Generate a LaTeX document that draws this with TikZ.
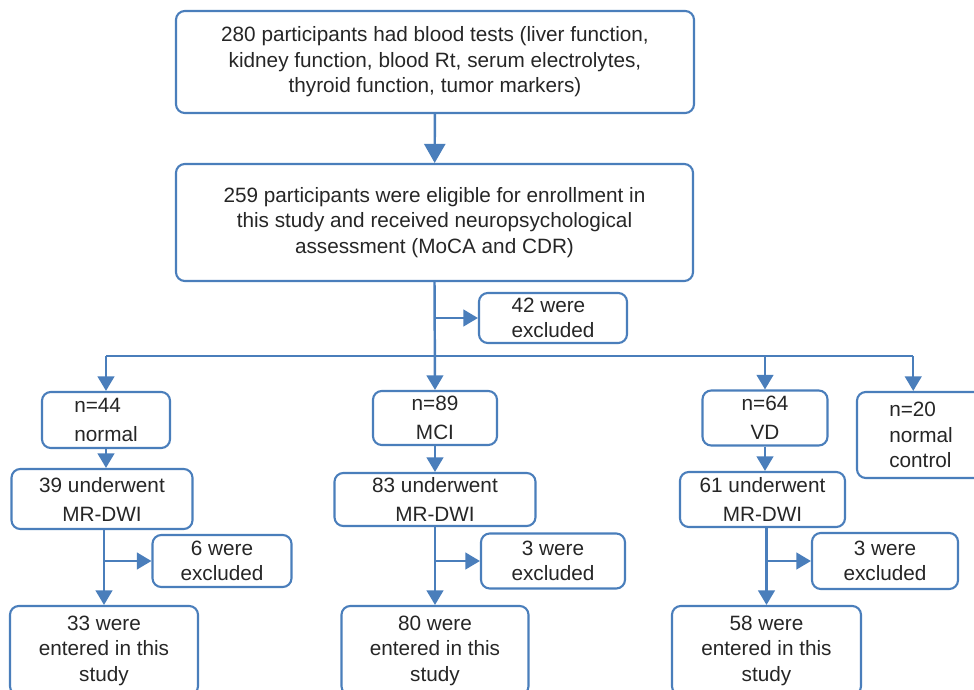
\documentclass[tikz,border=0pt]{standalone}
\usepackage{fontspec}
\setmainfont{Liberation Sans}
\usepackage{tikz}
\usetikzlibrary{arrows.meta, positioning}
\definecolor{flowBlue}{HTML}{4A7EBB}
\definecolor{textGray}{HTML}{262626}
\tikzset{
    flow_box/.style={
        rectangle, rounded corners=5pt, draw=flowBlue, line width=1.2pt,
        fill=white, text=textGray, align=center, inner sep=2pt,
        font=\fontsize{11.8}{14.5}\selectfont
    },
    flow_box_loose/.style={
        flow_box, font=\fontsize{11.8}{16.5}\selectfont
    },
    flow_arrow/.style={
        -{Triangle[length=0.29cm, width=0.33cm]}, draw=flowBlue, line width=1.4pt
    },
    flow_arrow_big/.style={
        -{Triangle[length=0.38cm, width=0.42cm]}, draw=flowBlue, line width=1.4pt
    },
    flow_line/.style={
        draw=flowBlue, line width=1.4pt
    }
}
\begin{document}
\begin{tikzpicture}
    \useasboundingbox (0, 0) rectangle (19.48, -13.80);
    \clip (0, 0) rectangle (19.48, -13.80);

    % screening
    \node[flow_box, minimum width=10.36cm, minimum height=2.04cm] (blood) at (8.70, -1.24) {280 participants had blood tests (liver function,\\kidney function, blood Rt, serum electrolytes,\\thyroid function, tumor markers)};
    \node[flow_box, minimum width=10.34cm, minimum height=2.34cm] (eligible) at (8.69, -4.45) {259 participants were eligible for enrollment in\\this study and received neuropsychological\\assessment (MoCA and CDR)};
    \node[flow_box, align=left, minimum width=2.96cm, minimum height=1.00cm] (excl_all) at (11.06, -6.36) {42 were\\excluded};
    \coordinate (split) at (8.70, -7.12);

    % groups
    \node[flow_box_loose, align=left, minimum width=2.56cm, minimum height=1.12cm] (grp_normal) at (2.12, -8.40) {n=44\\normal};
    \node[flow_box_loose, minimum width=2.48cm, minimum height=1.08cm] (grp_mci) at (8.70, -8.36) {n=89\\MCI};
    \node[flow_box_loose, minimum width=2.50cm, minimum height=1.10cm] (grp_vd) at (15.30, -8.36) {n=64\\VD};
    \node[flow_box, align=left, minimum width=2.56cm, minimum height=1.72cm] (grp_ctrl) at (18.42, -8.70) {n=20\\normal\\control};

    % imaging
    \node[flow_box_loose, minimum width=3.62cm, minimum height=1.20cm] (mr_normal) at (2.04, -9.98) {39 underwent\\MR-DWI};
    \node[flow_box_loose, minimum width=4.02cm, minimum height=1.06cm] (mr_mci) at (8.70, -9.99) {83 underwent\\MR-DWI};
    \node[flow_box_loose, minimum width=3.30cm, minimum height=1.10cm] (mr_vd) at (15.25, -9.99) {61 underwent\\MR-DWI};

    \node[flow_box, minimum width=2.78cm, minimum height=1.04cm] (ex_normal) at (4.44, -11.22) {6 were\\excluded};
    \node[flow_box, minimum width=2.88cm, minimum height=1.10cm] (ex_mci) at (11.06, -11.22) {3 were\\excluded};
    \node[flow_box, minimum width=2.92cm, minimum height=1.12cm] (ex_vd) at (17.70, -11.22) {3 were\\excluded};

    \node[flow_box, minimum width=3.76cm, minimum height=1.78cm] (st_normal) at (2.08, -13.01) {33 were\\entered in this\\study};
    \node[flow_box, minimum width=3.74cm, minimum height=1.78cm] (st_mci) at (8.70, -13.01) {80 were\\entered in this\\study};
    \node[flow_box, minimum width=3.78cm, minimum height=1.78cm] (st_vd) at (15.33, -13.01) {58 were\\entered in this\\study};

    \draw[flow_arrow_big] (blood) -- (eligible);
    \draw[flow_arrow] (eligible.south) -- (grp_mci.north);
    \draw[flow_arrow] (eligible.south |- excl_all.west) -- (excl_all.west);
    \draw[flow_line] (grp_normal.north |- split) -- (grp_ctrl.100 |- split);
    \draw[flow_arrow] (grp_normal.north |- split) -- (grp_normal.north);
    \draw[flow_arrow] (grp_vd.north |- split) -- (grp_vd.north);
    \draw[flow_arrow] (grp_ctrl.100 |- split) -- (grp_ctrl.100);

    \draw[flow_arrow] (grp_normal.south) -- (grp_normal.south |- mr_normal.north);
    \draw[flow_arrow] (grp_mci.south) -- (grp_mci.south |- mr_mci.north);
    \draw[flow_arrow] (grp_vd.south) -- (grp_vd.south |- mr_vd.north);

    \draw[flow_arrow] (st_normal.north |- mr_normal.south) -- (st_normal.north);
    \draw[flow_arrow] (st_normal.north |- ex_normal.west) -- (ex_normal.west);
    \draw[flow_arrow] (st_mci.north |- mr_mci.south) -- (st_mci.north);
    \draw[flow_arrow] (st_mci.north |- ex_mci.west) -- (ex_mci.west);
    \draw[flow_arrow] (st_vd.north |- mr_vd.south) -- (st_vd.north);
    \draw[flow_arrow] (st_vd.north |- ex_vd.west) -- (ex_vd.west);
\end{tikzpicture}
\end{document}
